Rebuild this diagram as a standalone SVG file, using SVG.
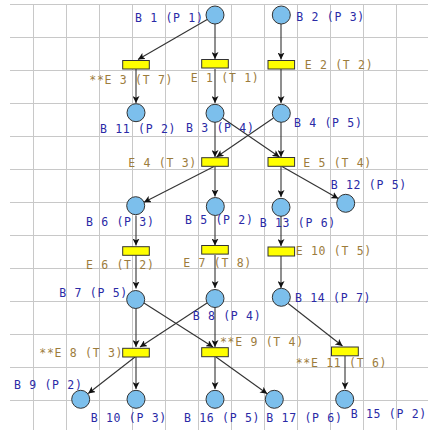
<svg xmlns="http://www.w3.org/2000/svg" width="428" height="430" viewBox="0 0 428 430">
<style>
.grid line{stroke:#c8c8c8;stroke-width:1}
.pl{fill:#7cbfec;stroke:#333;stroke-width:1}
.tr{fill:#ffff00;stroke:#333;stroke-width:1}
.arc line{stroke:#333;stroke-width:1.1;marker-end:url(#ah)}
text{font-family:"DejaVu Sans Mono","Liberation Mono",monospace;font-size:11.5px;letter-spacing:0.7px}
.lp{fill:#2a2aa6}
.lt{fill:#9c7c3c}
</style>
<defs>
<marker id="ah" viewBox="0 0 8 8" markerWidth="7" markerHeight="7" refX="8" refY="4" orient="auto" markerUnits="userSpaceOnUse">
<path d="M0,0 L8,4 L0,8 L2,4 z" fill="#111"/>
</marker>
</defs>
<rect width="428" height="430" fill="#fff"/>
<g class="grid">
<line x1="10" y1="4.5" x2="428" y2="4.5"/>
<line x1="10" y1="37.5" x2="428" y2="37.5"/>
<line x1="10" y1="70.5" x2="428" y2="70.5"/>
<line x1="10" y1="103.5" x2="428" y2="103.5"/>
<line x1="10" y1="136.5" x2="428" y2="136.5"/>
<line x1="10" y1="169.5" x2="428" y2="169.5"/>
<line x1="10" y1="202.5" x2="428" y2="202.5"/>
<line x1="10" y1="235.5" x2="428" y2="235.5"/>
<line x1="10" y1="268.5" x2="428" y2="268.5"/>
<line x1="10" y1="301.5" x2="428" y2="301.5"/>
<line x1="10" y1="334.5" x2="428" y2="334.5"/>
<line x1="10" y1="367.5" x2="428" y2="367.5"/>
<line x1="10" y1="400.5" x2="428" y2="400.5"/>
<line x1="33.5" y1="4" x2="33.5" y2="430"/>
<line x1="66.5" y1="4" x2="66.5" y2="430"/>
<line x1="99.5" y1="4" x2="99.5" y2="430"/>
<line x1="132.5" y1="4" x2="132.5" y2="430"/>
<line x1="165.5" y1="4" x2="165.5" y2="430"/>
<line x1="198.5" y1="4" x2="198.5" y2="430"/>
<line x1="231.5" y1="4" x2="231.5" y2="430"/>
<line x1="264.5" y1="4" x2="264.5" y2="430"/>
<line x1="297.5" y1="4" x2="297.5" y2="430"/>
<line x1="330.5" y1="4" x2="330.5" y2="430"/>
<line x1="363.5" y1="4" x2="363.5" y2="430"/>
<line x1="396.5" y1="4" x2="396.5" y2="430"/>
</g>
<g id="connectors" class="arc">
<line x1="207.2" y1="19.5" x2="138" y2="59.5"/>
<line x1="215" y1="24" x2="215" y2="59"/>
<line x1="281" y1="24" x2="281" y2="59.5"/>
<line x1="136" y1="69" x2="136" y2="103"/>
<line x1="215" y1="69" x2="215" y2="103"/>
<line x1="281" y1="69" x2="281" y2="103"/>
<line x1="222.5" y1="118" x2="279.5" y2="157"/>
<line x1="273.5" y1="118" x2="216.5" y2="157"/>
<line x1="215" y1="122" x2="215" y2="157"/>
<line x1="281" y1="122" x2="281" y2="157"/>
<line x1="214" y1="166.5" x2="144" y2="202.2"/>
<line x1="215" y1="166.5" x2="215" y2="196.5"/>
<line x1="281" y1="166.5" x2="281" y2="197"/>
<line x1="282" y1="166.5" x2="338.2" y2="198.6"/>
<line x1="136" y1="215.5" x2="136" y2="245.5"/>
<line x1="215" y1="215.5" x2="215" y2="245.5"/>
<line x1="281" y1="216" x2="281" y2="246"/>
<line x1="136" y1="255" x2="136" y2="288.5"/>
<line x1="215" y1="255" x2="215" y2="288"/>
<line x1="281" y1="255.5" x2="281" y2="288"/>
<line x1="136" y1="308" x2="136" y2="347"/>
<line x1="143.6" y1="302.8" x2="213" y2="347"/>
<line x1="207.4" y1="302.8" x2="140" y2="347"/>
<line x1="215" y1="307" x2="215" y2="347"/>
<line x1="288.2" y1="303.5" x2="342.5" y2="346"/>
<line x1="136" y1="356.5" x2="136" y2="389"/>
<line x1="135" y1="357" x2="88.2" y2="393.5"/>
<line x1="215" y1="356.5" x2="215" y2="389"/>
<line x1="216" y1="357" x2="267.2" y2="393.8"/>
<line x1="345" y1="356" x2="345" y2="389"/>
</g>
<g id="B1"><circle class="pl" cx="215" cy="15" r="9"/><text class="lp" x="135" y="21.7">B 1 (P 1)</text></g>
<g id="B2"><circle class="pl" cx="281.3" cy="15" r="9"/><text class="lp" x="296.3" y="21.3">B 2 (P 3)</text></g>
<g id="E3"><rect class="tr" x="122.7" y="60.5" width="26.6" height="8.5"/><text class="lt" x="89.3" y="84.3">**E 3 (T 7)</text></g>
<g id="E1"><rect class="tr" x="201.7" y="59.5" width="26.6" height="8.5"/><text class="lt" x="190.8" y="82">E 1 (T 1)</text></g>
<g id="E2"><rect class="tr" x="268" y="60.5" width="26.6" height="8.5"/><text class="lt" x="304.7" y="69.3">E 2 (T 2)</text></g>
<g id="B11"><circle class="pl" cx="136" cy="112.7" r="9"/><text class="lp" x="100" y="132.7">B 11 (P 2)</text></g>
<g id="B3"><circle class="pl" cx="215" cy="113.3" r="9"/><text class="lp" x="186" y="131.7">B 3 (P 4)</text></g>
<g id="B4"><circle class="pl" cx="281.3" cy="113.3" r="9"/><text class="lp" x="294" y="126.7">B 4 (P 5)</text></g>
<g id="E4"><rect class="tr" x="201.7" y="157.7" width="26.6" height="8.6"/><text class="lt" x="128.3" y="166.7">E 4 (T 3)</text></g>
<g id="E5"><rect class="tr" x="268" y="157.5" width="26.6" height="8.8"/><text class="lt" x="303.3" y="166.7">E 5 (T 4)</text></g>
<g id="B6"><circle class="pl" cx="135.7" cy="205.7" r="9"/><text class="lp" x="86" y="226">B 6 (P 3)</text></g>
<g id="B5"><circle class="pl" cx="215.3" cy="206.5" r="9"/><text class="lp" x="185" y="224.3">B 5 (P 2)</text></g>
<g id="B13"><circle class="pl" cx="281" cy="207.3" r="9"/><text class="lp" x="259.7" y="226.7">B 13 (P 6)</text></g>
<g id="B12"><circle class="pl" cx="345.7" cy="203.3" r="9"/><text class="lp" x="330.7" y="189.3">B 12 (P 5)</text></g>
<g id="E6"><rect class="tr" x="122.7" y="246.7" width="26.6" height="8.6"/><text class="lt" x="86" y="269.3">E 6 (T 2)</text></g>
<g id="E7"><rect class="tr" x="201.7" y="245.5" width="26.6" height="8.6"/><text class="lt" x="183.3" y="266.7">E 7 (T 8)</text></g>
<g id="E10"><rect class="tr" x="268" y="247" width="26.6" height="9"/><text class="lt" x="295.7" y="255">E 10 (T 5)</text></g>
<g id="B7"><circle class="pl" cx="135.7" cy="299.5" r="9"/><text class="lp" x="59.3" y="296.7">B 7 (P 5)</text></g>
<g id="B8"><circle class="pl" cx="215" cy="298.5" r="9"/><text class="lp" x="192.7" y="320">B 8 (P 4)</text></g>
<g id="B14"><circle class="pl" cx="281.3" cy="297.3" r="9"/><text class="lp" x="295" y="302.3">B 14 (P 7)</text></g>
<g id="E8"><rect class="tr" x="122.7" y="348.3" width="26.6" height="8.7"/><text class="lt" x="39.3" y="356.7">**E 8 (T 3)</text></g>
<g id="E9"><rect class="tr" x="201.7" y="347.7" width="26.6" height="9"/><text class="lt" x="220" y="345.7">**E 9 (T 4)</text></g>
<g id="E11"><rect class="tr" x="331.5" y="347" width="26.8" height="8.8"/><text class="lt" x="295.7" y="366.7">**E 11 (T 6)</text></g>
<g id="B9"><circle class="pl" cx="80.7" cy="399.3" r="9"/><text class="lp" x="14" y="388.7">B 9 (P 2)</text></g>
<g id="B10"><circle class="pl" cx="136" cy="399.3" r="9"/><text class="lp" x="90.7" y="422.3">B 10 (P 3)</text></g>
<g id="B16"><circle class="pl" cx="215" cy="399.3" r="9"/><text class="lp" x="184" y="422">B 16 (P 5)</text></g>
<g id="B17"><circle class="pl" cx="274.3" cy="399.3" r="9"/><text class="lp" x="266.3" y="421.7">B 17 (P 6)</text></g>
<g id="B15"><circle class="pl" cx="344.7" cy="399.3" r="9"/><text class="lp" x="350.7" y="418.3">B 15 (P 2)</text></g>
</svg>
